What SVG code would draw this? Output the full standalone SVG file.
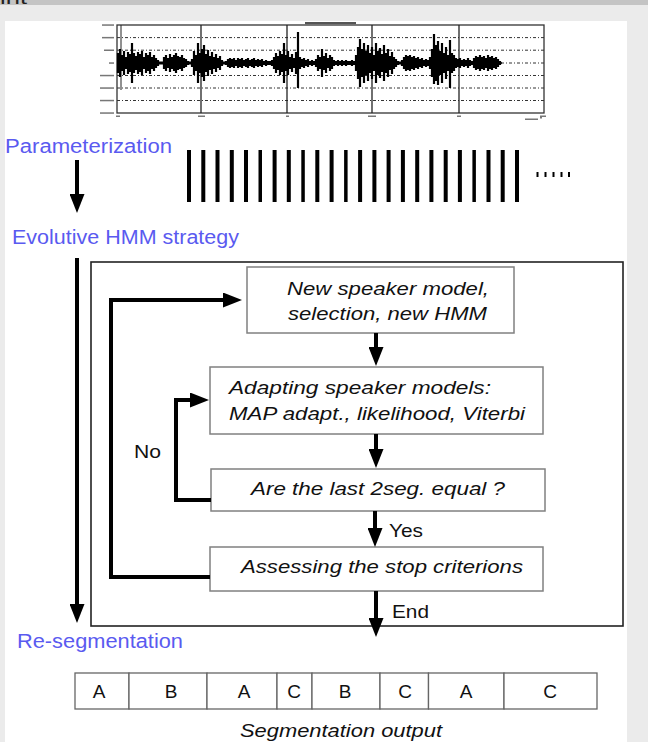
<svg xmlns="http://www.w3.org/2000/svg" width="648" height="742" viewBox="0 0 648 742">
<style>
.lbl{font-family:"Liberation Sans",Arial,sans-serif;font-size:20px;fill:#5a5af0}
.bx{fill:#fff;stroke:#808080;stroke-width:1.5}
.it{font-family:"Liberation Sans",Arial,sans-serif;font-size:19px;font-style:italic;fill:#111}
.tx{font-family:"Liberation Sans",Arial,sans-serif;font-size:19px;fill:#111}
.cn{fill:none;stroke:#000;stroke-width:4;stroke-linejoin:miter}
.grid{stroke:#333;stroke-width:1;stroke-dasharray:3 2 1 2}
.tick{fill:#777}
.cell{fill:#fff;stroke:#666;stroke-width:1.3}
</style>
<defs>
<marker id="ah" markerUnits="userSpaceOnUse" markerWidth="19" markerHeight="15" refX="9" refY="7.5" orient="auto">
<path d="M0,0 L19,7.5 L0,15 z" fill="#000"/>
</marker>
</defs>
<rect x="0" y="0" width="648" height="742" fill="#ebebeb"/>
<rect x="0" y="0" width="648" height="5" fill="#c4c4c4"/>
<text x="0" y="4" font-family="Liberation Sans, Arial, sans-serif" font-size="16" fill="#222" textLength="27" lengthAdjust="spacingAndGlyphs">int</text>
<rect x="5" y="21" width="622" height="721" fill="#fff"/>

<g id="waveform">
<rect x="117" y="25" width="427" height="88" fill="none" stroke="#333" stroke-width="1.3"/>
<g class="grid">
<line x1="117" y1="37.6" x2="544" y2="37.6"/>
<line x1="117" y1="50.2" x2="544" y2="50.2"/>
<line x1="117" y1="63" x2="544" y2="63"/>
<line x1="117" y1="75.5" x2="544" y2="75.5"/>
<line x1="117" y1="88" x2="544" y2="88"/>
<line x1="117" y1="100.5" x2="544" y2="100.5"/>
</g>
<g stroke="#222" stroke-width="1.3">
<line x1="201" y1="25" x2="201" y2="113"/>
<line x1="287" y1="25" x2="287" y2="113"/>
<line x1="372" y1="25" x2="372" y2="113"/>
<line x1="459" y1="25" x2="459" y2="113"/>
<line x1="121" y1="25" x2="121" y2="90" stroke-width="1"/>
</g>
<g class="tick">
<rect x="102" y="24.3" width="12" height="1.5"/>
<rect x="102" y="36.9" width="12" height="1.5"/>
<rect x="104" y="49.5" width="10" height="1.5"/>
<rect x="109" y="62.3" width="5" height="1.5"/>
<rect x="100" y="74.8" width="14" height="1.5"/>
<rect x="100" y="87.3" width="14" height="1.5"/>
<rect x="100" y="99.8" width="14" height="1.5"/>
<rect x="100" y="112.3" width="14" height="1.5"/>
<rect x="116" y="115.5" width="4" height="1.5"/>
<rect x="198" y="115.5" width="7" height="1.5"/>
<rect x="286" y="115.5" width="3" height="1.5"/>
<rect x="368" y="115.5" width="8" height="1.5"/>
<rect x="457" y="115.5" width="4" height="1.5"/>
<rect x="540" y="115.5" width="6" height="1.5"/>
<rect x="525" y="118.5" width="13" height="1.5"/>
<rect x="540" y="117" width="2" height="1.5"/>
<rect x="305" y="22" width="51" height="2.2" fill="#555"/>
</g>
<line x1="117" y1="63" x2="502" y2="63" stroke="#000" stroke-width="1.5"/>
<path stroke="#000" stroke-width="2.2" fill="none" d="M118 53V73M120 49V77M122 55V71M124 51V75M126 57V69M128 52V74M130 54V72M132 43V83M134 53V73M136 56V70M138 52V74M140 54V72M142 51V75M144 57V69M146 53V73M148 55V71M150 52V74M152 57V69M154 55V71M156 58V68M158 60V66M160 61.5V64.5M162 61.5V64.5M164 57V69M166 55V71M168 58V68M170 54V72M172 57V69M174 55V71M176 53V73M178 56V70M180 57V69M182 55V71M184 58V68M186 59V67M188 61V65M190 61.5V64.5M192 59V67M194 51V75M196 55V71M198 43V83M200 53V73M202 49V77M204 45V81M206 54V72M208 50V76M210 56V70M212 52V74M214 57V69M216 54V72M218 58V68M220 56V70M222 60V66M224 61.5V64.5M226 61V65M228 59V67M230 58V68M232 59V67M234 58V68M236 60V66M238 58V68M240 59V67M242 58V68M244 60V66M246 59V67M248 58V68M250 60V66M252 59V67M254 58V68M256 60V66M258 59V67M260 60V66M262 59V67M264 61V65M266 60V66M268 61V65M270 61V65M272 60V66M274 57V69M276 53V73M278 56V70M280 51V75M282 54V72M284 43V83M286 55V71M288 51V75M290 57V69M292 54V72M294 58V68M296 52V74M298 32V88M300 57V69M302 59V67M304 58V68M306 60V66M308 59V67M310 61V65M312 60V66M314 61V65M316 59V67M318 55V71M320 57V69M322 49V77M324 56V70M326 53V73M328 58V68M330 55V71M332 57V69M334 60V66M336 61V65M338 60V66M340 61V65M342 60V66M344 61V65M346 60V66M348 61V65M350 61V65M352 60V66M354 61V65M356 55V71M358 47V79M360 39V87M362 49V77M364 43V83M366 51V75M368 45V81M370 53V73M372 47V79M374 55V71M376 43V83M378 51V75M380 48V78M382 54V72M384 45V81M386 53V73M388 49V77M390 56V70M392 52V74M394 57V69M396 59V67M398 61V65M400 61.5V64.5M402 60V66M404 57V69M406 55V71M408 56V70M410 55V71M412 57V69M414 56V70M416 58V68M418 57V69M420 59V67M422 58V68M424 60V66M426 59V67M428 60V66M430 57V69M432 49V77M434 34V84M436 45V81M438 41V85M440 51V75M442 43V83M444 53V73M446 47V79M448 55V71M450 40V88M452 53V73M454 55V71M456 58V68M458 59V67M460 58V68M462 60V66M464 59V67M466 60V66M468 58V68M470 60V66M472 61V65M474 58V68M476 56V70M478 57V69M480 55V71M482 57V69M484 56V70M486 58V68M488 55V71M490 57V69M492 56V70M494 58V68M496 57V69M498 59V67M500 61V65"/>
</g>

<g id="labels">
<text class="lbl" x="5" y="152.5" textLength="167" lengthAdjust="spacingAndGlyphs">Parameterization</text>
<text class="lbl" x="12" y="244" textLength="227" lengthAdjust="spacingAndGlyphs">Evolutive HMM strategy</text>
<text class="lbl" x="17" y="648" textLength="166" lengthAdjust="spacingAndGlyphs">Re-segmentation</text>
</g>

<g id="frames" fill="#000">
<rect x="187" y="150" width="4" height="52"/>
<rect x="201.3" y="150" width="4" height="52"/>
<rect x="215.5" y="150" width="4" height="52"/>
<rect x="229.8" y="150" width="4" height="52"/>
<rect x="244" y="150" width="4" height="52"/>
<rect x="258.5" y="150" width="3.5" height="52"/>
<rect x="272.6" y="150" width="4" height="52"/>
<rect x="286.8" y="150" width="4" height="52"/>
<rect x="301.3" y="150" width="3.5" height="52"/>
<rect x="315.3" y="150" width="4" height="52"/>
<rect x="329.6" y="150" width="4" height="52"/>
<rect x="344.1" y="150" width="3.5" height="52"/>
<rect x="358.1" y="150" width="4" height="52"/>
<rect x="372.4" y="150" width="4" height="52"/>
<rect x="386.6" y="150" width="4" height="52"/>
<rect x="400.9" y="150" width="4" height="52"/>
<rect x="415.2" y="150" width="4" height="52"/>
<rect x="429.4" y="150" width="4" height="52"/>
<rect x="443.7" y="150" width="4" height="52"/>
<rect x="457.9" y="150" width="4" height="52"/>
<rect x="472.4" y="150" width="3.5" height="52"/>
<rect x="486.5" y="150" width="4" height="52"/>
<rect x="500.7" y="150" width="4" height="52"/>
<rect x="515" y="150" width="4" height="52"/>
<rect x="536.5" y="172" width="2" height="5"/>
<rect x="544.5" y="172" width="2" height="5"/>
<rect x="552.5" y="172" width="2" height="5"/>
<rect x="560.5" y="172" width="2" height="5"/>
<rect x="568" y="172" width="2" height="5"/>
</g>

<g id="hmm-box">
<rect x="91" y="262" width="532" height="364" fill="none" stroke="#222" stroke-width="1.6"/>
</g>

<g id="n1">
<rect class="bx" x="247" y="267" width="267" height="66"/>
<text class="it" x="287" y="295" textLength="202" lengthAdjust="spacingAndGlyphs">New speaker model,</text>
<text class="it" x="288" y="320" textLength="199" lengthAdjust="spacingAndGlyphs">selection, new HMM</text>
</g>
<g id="n2">
<rect class="bx" x="210" y="367" width="333" height="67"/>
<text class="it" x="229" y="394" textLength="262" lengthAdjust="spacingAndGlyphs">Adapting speaker models:</text>
<text class="it" x="229" y="420" textLength="296" lengthAdjust="spacingAndGlyphs">MAP adapt., likelihood, Viterbi</text>
</g>
<g id="n3">
<rect class="bx" x="211" y="469" width="334" height="42"/>
<text class="it" x="251" y="495" textLength="254" lengthAdjust="spacingAndGlyphs">Are the last 2seg. equal ?</text>
</g>
<g id="n4">
<rect class="bx" x="210" y="547" width="333" height="44"/>
<text class="it" x="241" y="573" textLength="282" lengthAdjust="spacingAndGlyphs">Assessing the stop criterions</text>
</g>

<g id="connectors">
<path class="cn" d="M77,160 V203" marker-end="url(#ah)"/>
<path class="cn" d="M77,258 V613" marker-end="url(#ah)"/>
<path class="cn" d="M376,333 V356" marker-end="url(#ah)"/>
<path class="cn" d="M376,434 V458" marker-end="url(#ah)"/>
<path class="cn" d="M375,511 V537" marker-end="url(#ah)"/>
<path class="cn" d="M376,591 V627" marker-end="url(#ah)"/>
<path class="cn" d="M211,500 H176 V400 H199" marker-end="url(#ah)"/>
<path class="cn" d="M210,577 H111 V300 H232" marker-end="url(#ah)"/>
<text class="tx" x="134" y="458" textLength="27" lengthAdjust="spacingAndGlyphs">No</text>
<text class="tx" x="389" y="537" textLength="34" lengthAdjust="spacingAndGlyphs">Yes</text>
<text class="tx" x="392" y="618" textLength="37" lengthAdjust="spacingAndGlyphs">End</text>
</g>

<g id="segmentation">
<rect class="cell" x="75" y="673" width="54" height="36"/>
<rect class="cell" x="129" y="673" width="78" height="36"/>
<rect class="cell" x="207" y="673" width="70" height="36"/>
<rect class="cell" x="277" y="673" width="35" height="36"/>
<rect class="cell" x="312" y="673" width="68" height="36"/>
<rect class="cell" x="380" y="673" width="48.5" height="36"/>
<rect class="cell" x="428.5" y="673" width="75.5" height="36"/>
<rect class="cell" x="504" y="673" width="93" height="36"/>
<g class="tx" text-anchor="middle" font-size="20">
<text x="99" y="698">A</text>
<text x="171" y="698">B</text>
<text x="244" y="698">A</text>
<text x="294" y="698">C</text>
<text x="345" y="698">B</text>
<text x="405" y="698">C</text>
<text x="466" y="698">A</text>
<text x="550" y="698">C</text>
</g>
<text class="it" x="240" y="737" font-size="20" textLength="202" lengthAdjust="spacingAndGlyphs">Segmentation output</text>
</g>
</svg>
